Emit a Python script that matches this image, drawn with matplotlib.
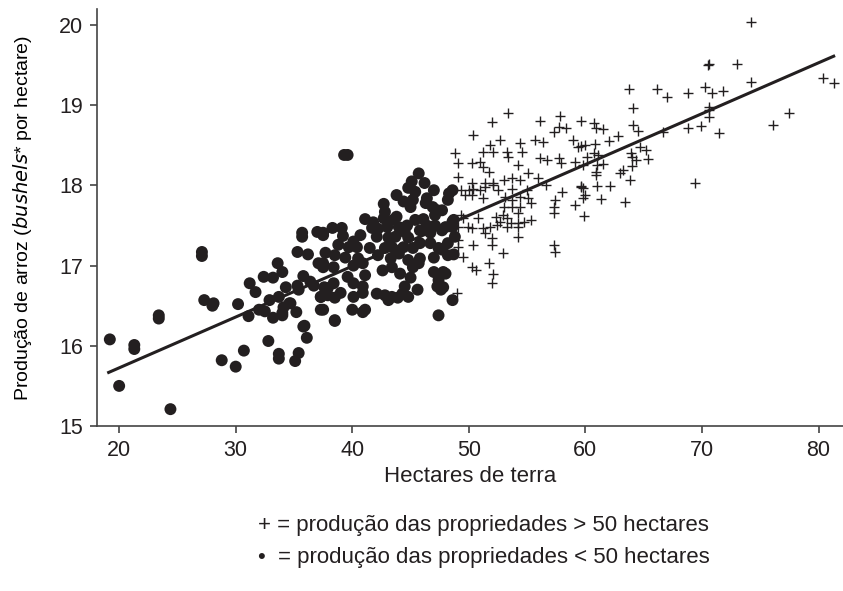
import matplotlib
matplotlib.use("Agg")
import matplotlib.pyplot as plt
import numpy as np

plt.rcParams['font.family'] = ['Liberation Sans', 'DejaVu Sans']
plt.rcParams['text.color'] = '#231f20'
plt.rcParams['xtick.labelcolor'] = '#231f20'
plt.rcParams['ytick.labelcolor'] = '#231f20'

# propriedades < 50 hectares (pontos)
pequenas_x = [19.2, 20.0, 21.3, 21.3, 23.4, 23.4, 24.4, 27.1, 27.1, 27.3, 28.0, 28.1, 28.8, 30.0,
              30.2, 30.7, 31.1, 31.2, 31.7, 32.4, 33.2, 33.6, 34.0, 32.8, 33.7, 33.7, 33.2, 32.9,
              32.0, 32.5, 33.7, 34.0, 34.3, 34.7, 34.1, 35.2, 35.3, 35.4, 35.1, 35.9, 36.1, 35.3,
              35.7, 35.7, 36.2, 35.8, 35.4, 36.4, 36.7, 37.1, 37.5, 37.0, 37.5, 37.3, 37.5, 37.6,
              39.3, 39.6, 45.7, 45.1, 46.2, 47.0, 44.8, 45.4, 43.8, 44.4, 45.2, 45.0, 46.4, 46.3,
              46.9, 47.3, 47.1, 48.2, 48.6, 48.3, 48.7, 42.7, 42.8, 41.1, 41.8, 42.7, 43.5, 43.8,
              44.7, 45.4, 46.1, 46.4, 47.1, 41.7, 42.2, 43.0, 44.0, 44.5, 45.8, 46.7, 47.7, 48.6,
              48.8, 37.5, 38.3, 39.1, 39.2, 40.7, 40.1, 42.1, 43.1, 43.7, 44.8, 45.8, 38.8, 39.7,
              40.4, 41.5, 42.8, 43.4, 44.4, 45.2, 46.7, 47.4, 48.2, 48.2, 48.7, 37.7, 38.5, 39.4,
              40.5, 42.2, 43.3, 44.0, 44.8, 45.8, 47.0, 47.7, 37.5, 38.4, 40.1, 40.9, 42.6, 43.4,
              45.2, 45.7, 47.0, 47.8, 41.1, 39.6, 44.1, 45.0, 47.4, 40.1, 40.9, 37.9, 38.4, 42.1,
              42.8, 43.4, 44.5, 44.3, 45.6, 47.3, 47.6, 39.0, 40.1, 40.9, 37.3, 37.9, 38.5, 43.1,
              43.9, 44.8, 48.6, 40.0, 40.9, 38.5, 47.4, 34.0, 34.6, 35.8, 37.3, 38.5, 41.1, 47.7,
              48.6, 48.0, 48.0, 47.8]
pequenas_y = [16.08, 15.50, 15.96, 16.01, 16.34, 16.38, 15.21, 17.12, 17.17, 16.57, 16.50, 16.53, 15.82, 15.74,
              16.52, 15.94, 16.37, 16.78, 16.67, 16.86, 16.85, 17.03, 16.92, 16.06, 15.90, 15.84, 16.35, 16.57,
              16.45, 16.43, 16.61, 16.38, 16.73, 16.53, 16.48, 16.42, 16.75, 15.91, 15.81, 16.25, 16.10, 17.17,
              17.36, 17.41, 17.14, 16.87, 16.70, 16.80, 16.75, 17.03, 16.98, 17.42, 17.41, 16.61, 16.45, 16.73,
              18.38, 18.38, 18.15, 18.05, 18.03, 17.94, 17.97, 17.92, 17.88, 17.80, 17.82, 17.73, 17.84, 17.78,
              17.73, 17.69, 17.63, 17.82, 17.94, 17.90, 17.57, 17.77, 17.67, 17.58, 17.54, 17.59, 17.57, 17.61,
              17.50, 17.57, 17.58, 17.50, 17.50, 17.47, 17.46, 17.48, 17.48, 17.42, 17.44, 17.41, 17.44, 17.48,
              17.36, 17.38, 17.47, 17.47, 17.37, 17.38, 17.30, 17.36, 17.35, 17.36, 17.35, 17.28, 17.26, 17.23,
              17.23, 17.22, 17.22, 17.23, 17.23, 17.22, 17.28, 17.22, 17.28, 17.13, 17.14, 17.16, 17.13, 17.10,
              17.09, 17.13, 17.09, 17.15, 17.07, 17.09, 17.10, 17.20, 17.03, 16.98, 17.00, 17.03, 16.94, 16.98,
              16.98, 17.03, 16.92, 16.92, 16.88, 16.86, 16.90, 16.85, 16.82, 16.78, 16.74, 16.72, 16.78, 16.65,
              16.63, 16.61, 16.74, 16.65, 16.70, 16.74, 16.70, 16.66, 16.61, 16.66, 16.61, 16.63, 16.60, 16.57,
              16.60, 16.61, 16.57, 16.45, 16.42, 16.31, 16.38, 16.41, 16.53, 16.24, 16.45, 16.32, 16.45, 17.69,
              17.55, 17.48, 16.90, 16.73]

# propriedades > 50 hectares (cruzes)
grandes_x = [53.4, 52.0, 56.1, 57.8, 50.4, 52.7, 51.8, 51.2, 52.1, 53.3, 54.4, 54.6, 55.7, 56.4, 57.3,
             57.7, 58.3, 58.9, 59.4, 48.8, 53.4, 49.1, 50.3, 51.0, 51.2, 51.7, 54.2, 56.1, 56.7, 57.7,
             57.9, 59.1, 49.1, 50.3, 51.4, 52.1, 53.0, 53.7, 54.4, 55.1, 55.9, 56.6, 49.3, 50.0, 50.4,
             51.0, 51.4, 52.1, 52.5, 53.7, 55.0, 55.1, 49.7, 50.3, 51.2, 53.1, 53.7, 54.4, 55.3, 58.0,
             57.4, 53.0, 53.7, 54.4, 54.2, 55.3, 57.3, 57.3, 59.1, 49.3, 49.5, 50.8, 52.3, 52.9, 53.3,
             52.7, 53.6, 54.2, 54.7, 49.1, 49.9, 50.3, 51.2, 51.8, 52.4, 51.4, 53.3, 54.2, 52.0, 54.2,
             49.1, 50.4, 52.0, 49.5, 52.9, 57.3, 57.4, 51.7, 50.3, 50.6, 52.1, 52.0, 49.0, 49.1,
             70.5, 63.7, 66.1, 67.0, 68.8, 70.3, 64.1, 59.6, 60.7, 60.9, 61.5, 64.1, 64.5, 62.8, 62.0,
             66.7, 68.8, 69.9, 70.6, 70.6, 59.6, 60.0, 60.8, 60.7, 61.1, 60.1, 59.8, 61.0, 61.5, 60.9,
             63.9, 64.0, 64.3, 64.7, 65.2, 65.4, 64.0, 63.2, 63.0, 63.8, 60.9, 59.6, 59.8, 61.0, 62.1,
             60.0, 59.8, 61.3, 63.4, 59.9, 69.4, 74.2, 70.6, 73.0, 74.2, 80.4, 81.3, 70.9, 71.8, 70.6,
             71.5, 76.1, 77.5, 59.6]
grandes_y = [18.90, 18.79, 18.80, 18.87, 18.63, 18.57, 18.50, 18.42, 18.42, 18.42, 18.53, 18.42, 18.57, 18.54, 18.67,
             18.73, 18.72, 18.57, 18.48, 18.40, 18.35, 18.28, 18.28, 18.29, 18.23, 18.17, 18.25, 18.34, 18.32, 18.34,
             18.28, 18.29, 18.10, 18.03, 18.03, 18.03, 18.07, 18.09, 18.07, 18.15, 18.09, 18.00, 17.94, 17.94, 17.96,
             17.94, 17.98, 18.00, 17.94, 17.96, 17.94, 17.84, 17.88, 17.88, 17.84, 17.86, 17.82, 17.86, 17.78, 17.92,
             17.82, 17.73, 17.73, 17.73, 17.66, 17.57, 17.66, 17.73, 17.76, 17.63, 17.59, 17.59, 17.61, 17.63, 17.59,
             17.54, 17.53, 17.53, 17.54, 17.48, 17.48, 17.47, 17.47, 17.48, 17.51, 17.41, 17.48, 17.48, 17.34, 17.36,
             17.32, 17.26, 17.26, 17.11, 17.16, 17.26, 17.17, 17.03, 16.98, 16.95, 16.90, 16.78, 16.66, 17.23,
             19.50, 19.20, 19.20, 19.10, 19.15, 19.23, 18.96, 18.80, 18.78, 18.72, 18.70, 18.75, 18.68, 18.62, 18.55,
             18.67, 18.72, 18.74, 18.94, 18.85, 18.49, 18.50, 18.52, 18.40, 18.38, 18.35, 18.25, 18.25, 18.27, 18.17,
             18.41, 18.35, 18.32, 18.48, 18.44, 18.33, 18.24, 18.19, 18.15, 18.07, 18.13, 17.99, 17.97, 17.99, 17.99,
             17.88, 17.84, 17.83, 17.79, 17.62, 18.03, 20.04, 19.51, 19.51, 19.29, 19.34, 19.28, 19.15, 19.18, 18.98,
             18.65, 18.75, 18.90, 17.98]

# reta de regressão
intercepto = 14.457
inclinacao = 0.0634
reta_x = [19.1, 81.3]

cor = '#231f20'

fig = plt.figure(figsize=(8.43, 5.91), dpi=100)
ax = fig.add_axes([97 / 843, 165 / 591, 746 / 843, 417 / 591])

ax.scatter(pequenas_x, pequenas_y, s=74, color=cor, edgecolors='none', zorder=3)
ax.scatter(grandes_x, grandes_y, s=60, marker='+', color=cor, linewidths=1.0, zorder=3)
rx = np.array(reta_x)
ax.plot(rx, intercepto + inclinacao * rx, color=cor, lw=2.2, zorder=4)

ax.set_xlim(18.1, 82.1)
ax.set_ylim(15, 20.2)
ax.set_xticks([20, 30, 40, 50, 60, 70, 80])
ax.set_yticks([15, 16, 17, 18, 19, 20])
for s in ['top', 'right']:
    ax.spines[s].set_visible(False)
for s in ['left', 'bottom']:
    ax.spines[s].set_color('#444444')
    ax.spines[s].set_linewidth(1.2)
ax.tick_params(direction='out', length=5, width=1.2, color='#444444', labelsize=15.5, pad=5)

ax.set_ylabel('Produção de arroz ($\\it{bushels}$* por hectare)', fontsize=14, labelpad=18)
fig.text(0.558, 1 - 476 / 591, 'Hectares de terra', ha='center', va='center', fontsize=16)
fig.text(258 / 843, 1 - 525 / 591, '+ = produção das propriedades > 50 hectares', ha='left', va='center', fontsize=16)
fig.text(258 / 843, 1 - 557 / 591, '•  = produção das propriedades < 50 hectares', ha='left', va='center', fontsize=16)

fig.savefig('out.png', dpi=100)
